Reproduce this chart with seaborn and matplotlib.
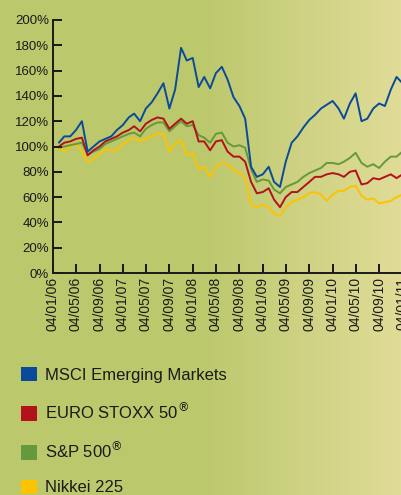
import numpy as np
import pandas as pd
import matplotlib
matplotlib.use('Agg')
import matplotlib.pyplot as plt
import matplotlib.dates as mdates
from matplotlib.patches import Patch
import seaborn as sns

sns.set_style('ticks')
plt.rcParams['font.family'] = ['Liberation Sans', 'DejaVu Sans']

# monthly index levels (start = 100%), Jan 2006 .. Jan 2011
dates = pd.date_range('2006-01-04', periods=61, freq='MS') + pd.Timedelta(days=3)
msci = [103, 108, 108, 113, 120, 96, 100, 104, 106, 108, 113, 117,
        123, 126, 120, 130, 135, 142, 150, 130, 145, 178, 168, 170,
        147, 155, 146, 158, 163, 153, 139, 132, 122, 84, 76, 78,
        84, 72, 68, 88, 103, 108, 115, 121, 125, 130, 133, 136,
        130, 122, 134, 142, 120, 122, 130, 134, 132, 145, 155, 150, 152]
stoxx = [100, 103, 104, 106, 107, 93, 97, 100, 104, 106, 108, 111,
         113, 116, 112, 118, 121, 123, 122, 114, 118, 122, 118, 120,
         104, 104, 97, 104, 105, 96, 92, 92, 88, 72, 63, 64,
         67, 58, 52, 60, 64, 64, 68, 72, 76, 76, 78, 79,
         78, 76, 80, 81, 70, 71, 75, 74, 76, 78, 75, 78, 79]
sp500 = [99, 100, 101, 102, 103, 94, 96, 98, 102, 104, 106, 108,
         110, 111, 108, 114, 117, 119, 119, 112, 116, 120, 116, 117,
         109, 107, 103, 110, 111, 103, 100, 101, 99, 82, 72, 74,
         73, 66, 63, 68, 70, 72, 76, 79, 81, 83, 87, 87,
         86, 88, 91, 95, 87, 84, 86, 83, 88, 92, 92, 96, 100]
nikkei = [99, 96, 100, 102, 96, 88, 90, 94, 98, 97, 97, 102,
          105, 107, 104, 106, 108, 110, 110, 96, 102, 105, 93, 95,
          82, 84, 76, 84, 87, 86, 81, 79, 75, 54, 52, 54,
          52, 47, 45, 52, 56, 58, 60, 63, 64, 62, 57, 62,
          65, 65, 68, 69, 61, 58, 59, 55, 56, 57, 60, 62, 63]

names = ['MSCI Emerging Markets', r'EURO STOXX 50$^{\circledR}$',
         r'S&P 500$^{\circledR}$', 'Nikkei 225']
colors = ['#0a4a98', '#b2121a', '#66993c', '#fdc300']
yticks = list(range(0, 201, 20))
xticks = pd.date_range('2006-01-01', '2011-01-01', freq='4MS') + pd.Timedelta(days=3)

df = pd.DataFrame({'date': dates, names[0]: msci, names[1]: stoxx,
                   names[2]: sp500, names[3]: nikkei})
long = df.melt(id_vars='date', var_name='index', value_name='pct')

fig = plt.figure(figsize=(4.01, 4.95), dpi=100)

# background gradient on its own axes behind everything
w = 401
left = np.array([188, 200, 108]) / 255
right = np.array([224, 220, 152]) / 255
t = np.clip((np.arange(w) - 200) / 200, 0, 1)
row = left[None, :] * (1 - t[:, None]) + right[None, :] * t[:, None]
bg_ax = fig.add_axes([0, 0, 1, 1], zorder=-1)
bg_ax.imshow(row[None, :, :], aspect='auto', extent=[0, 1, 0, 1])
bg_ax.axis('off')

ax = fig.add_axes([53 / 401, 222 / 495, 349.5 / 401, 253 / 495])
ax.patch.set_alpha(0)
# draw in reverse so blue ends on top
sns.lineplot(data=long, x='date', y='pct', hue='index', hue_order=names[::-1],
             palette=colors[::-1], linewidth=1.4, legend=False, ax=ax)

ax.set_ylim(0, 200)
ax.set_xlim(pd.Timestamp('2006-01-04'), pd.Timestamp('2011-01-04'))
ax.set_yticks(yticks)
ax.set_yticklabels([f'{v}%' for v in yticks], fontsize=9.5)
ax.set_xticks(xticks)
ax.xaxis.set_major_formatter(mdates.DateFormatter('%d/%m/%y'))
plt.setp(ax.get_xticklabels(), rotation=90, fontsize=10)
ax.tick_params(axis='both', which='major', direction='in', length=6.5, width=1.3,
               color='#1a1a1a', labelcolor='#1a1a1a', pad=3,
               bottom=True, left=True, top=False, right=False)
ax.set_xlabel('')
ax.set_ylabel('')
for s in ['top', 'right']:
    ax.spines[s].set_visible(False)
for s in ['left', 'bottom']:
    ax.spines[s].set_linewidth(1.4)
    ax.spines[s].set_color('#1a1a1a')

# inward tick marks drawn explicitly as well
ytr = ax.get_yaxis_transform()
for v in yticks:
    ax.plot([0, 0.026], [v, v], transform=ytr, color='#1a1a1a', lw=1.3, clip_on=False,
            solid_capstyle='butt')
xtr = ax.get_xaxis_transform()
for d in xticks:
    ax.plot([d, d], [0, 0.035], transform=xtr, color='#1a1a1a', lw=1.3, clip_on=False,
            solid_capstyle='butt')

handles = [Patch(facecolor=c, edgecolor='none') for c in colors]
fig.legend(handles, names, loc='upper left', bbox_to_anchor=(21 / 401, 1 - 367 / 495),
           frameon=False, fontsize=12, handlelength=0.95, handleheight=0.95,
           handletextpad=0.5, labelspacing=1.1, borderpad=0, borderaxespad=0,
           labelcolor='#1a1a1a')

fig.savefig('out.png', dpi=100)
